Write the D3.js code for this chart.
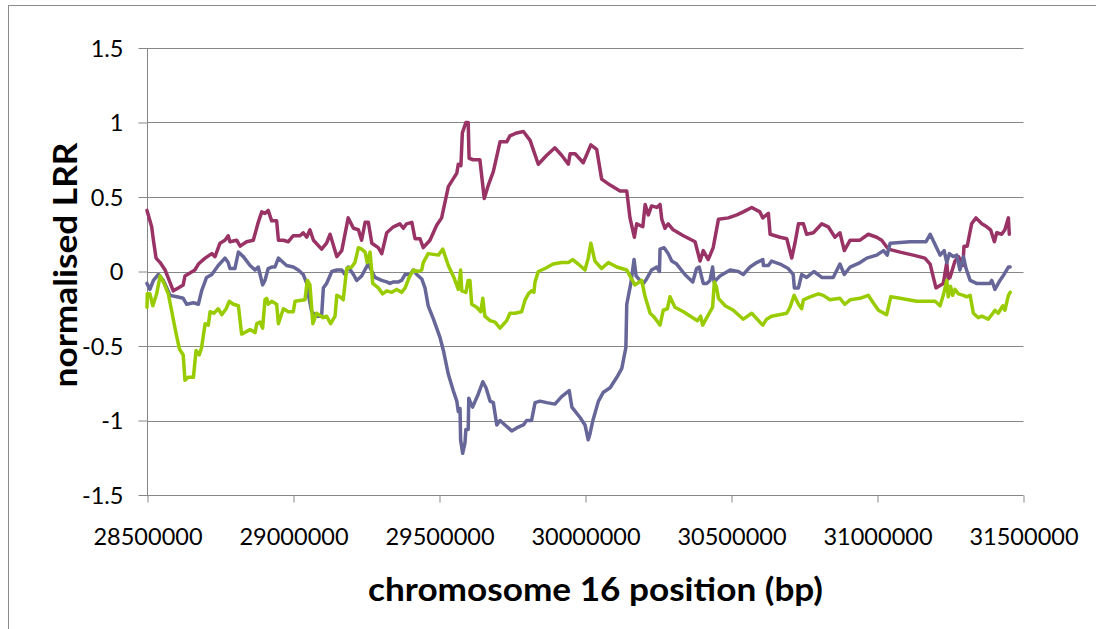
<!DOCTYPE html>
<html>
<head>
<meta charset="utf-8">
<script src="https://cdn.jsdelivr.net/npm/d3@7/dist/d3.min.js"></script>
<style>
  html, body { margin: 0; padding: 0; background: #fff; }
  svg { display: block; }
</style>
</head>
<body>
<svg id="chart" width="1096" height="629"></svg>
<script>
// ---- Data (positions in kb on chromosome 16, values are normalised LRR) ----
const xTicks = [28500000, 29000000, 29500000, 30000000, 30500000, 31000000, 31500000];
const yTicks = [-1.5, -1, -0.5, 0, 0.5, 1, 1.5];
const xTitle = "chromosome 16 position (bp)";
const yTitle = "normalised LRR";

const seriesPlum = [
[28500,0.41],[28516,0.30],[28522,0.21],[28531,0.09],[28545,0.06],[28562,0.01],[28576,-0.06],[28590,-0.13],
[28607,-0.11],[28624,-0.09],[28630,-0.03],[28647,-0.01],[28664,0.01],[28676,0.05],[28699,0.09],[28722,0.12],
[28733,0.10],[28750,0.19],[28767,0.21],[28778,0.24],[28784,0.20],[28807,0.21],[28819,0.17],[28841,0.20],
[28864,0.21],[28881,0.33],[28893,0.40],[28904,0.39],[28915,0.41],[28927,0.34],[28944,0.34],[28950,0.21],
[28967,0.21],[28984,0.20],[29001,0.24],[29024,0.24],[29035,0.26],[29047,0.23],[29058,0.28],[29070,0.21],
[29098,0.15],[29115,0.19],[29127,0.25],[29150,0.10],[29167,0.14],[29189,0.36],[29207,0.29],[29224,0.28],
[29235,0.21],[29247,0.33],[29258,0.33],[29270,0.19],[29292,0.16],[29304,0.12],[29321,0.26],[29344,0.30],
[29366,0.32],[29378,0.29],[29389,0.32],[29407,0.33],[29418,0.22],[29435,0.22],[29446,0.16],[29469,0.21],
[29492,0.31],[29509,0.36],[29532,0.57],[29561,0.66],[29566,0.72],[29575,0.71],[29580,0.93],[29592,1.00],
[29600,1.00],[29603,0.76],[29617,0.75],[29640,0.75],[29655,0.49],[29669,0.58],[29686,0.67],[29709,0.87],
[29732,0.87],[29743,0.91],[29766,0.93],[29789,0.94],[29812,0.88],[29840,0.72],[29869,0.78],[29897,0.83],
[29920,0.78],[29943,0.72],[29949,0.79],[29966,0.79],[29994,0.73],[30020,0.85],[30040,0.82],[30057,0.62],
[30086,0.58],[30120,0.54],[30143,0.54],[30154,0.36],[30169,0.23],[30177,0.32],[30198,0.30],[30206,0.45],
[30217,0.38],[30228,0.44],[30246,0.43],[30257,0.45],[30263,0.35],[30274,0.29],[30285,0.32],[30302,0.28],
[30337,0.24],[30377,0.20],[30394,0.07],[30405,0.14],[30422,0.08],[30439,0.16],[30457,0.35],[30491,0.36],
[30520,0.38],[30542,0.40],[30571,0.43],[30599,0.40],[30609,0.36],[30628,0.39],[30634,0.25],[30668,0.23],
[30691,0.22],[30708,0.09],[30719,0.19],[30731,0.32],[30748,0.32],[30759,0.25],[30782,0.26],[30811,0.32],
[30833,0.30],[30856,0.23],[30873,0.26],[30888,0.14],[30908,0.21],[30942,0.21],[30970,0.25],[30999,0.23],
[31016,0.21],[31039,0.15],[31079,0.13],[31124,0.11],[31164,0.09],[31182,0.05],[31193,-0.04],[31202,-0.11],
[31227,-0.08],[31239,0.06],[31244,-0.05],[31250,-0.04],[31267,0.07],[31279,0.10],[31294,0.04],[31298,0.17],
[31309,0.17],[31324,0.32],[31339,0.36],[31359,0.32],[31376,0.30],[31389,0.28],[31402,0.20],[31410,0.26],
[31427,0.25],[31438,0.28],[31450,0.36],[31453,0.25]
];

const seriesSlate = [
[28500,-0.08],[28510,-0.12],[28522,-0.06],[28539,-0.02],[28556,-0.06],[28579,-0.16],[28602,-0.17],[28624,-0.18],
[28636,-0.22],[28659,-0.21],[28676,-0.22],[28687,-0.13],[28704,-0.04],[28722,-0.02],[28744,0.04],[28767,0.09],
[28778,0.06],[28784,0.02],[28801,0.02],[28813,0.13],[28830,0.10],[28853,0.04],[28870,0.01],[28881,0.03],
[28896,-0.09],[28904,-0.06],[28915,0.02],[28927,0.03],[28938,0.03],[28950,0.09],[28961,0.07],[28978,0.04],
[29001,0.03],[29018,0.01],[29035,-0.02],[29047,-0.08],[29052,-0.15],[29064,-0.27],[29081,-0.30],[29098,-0.30],
[29104,-0.11],[29115,-0.08],[29133,0.00],[29150,0.01],[29167,0.01],[29178,-0.02],[29189,0.03],[29207,-0.02],
[29218,-0.06],[29235,-0.03],[29257,0.05],[29281,-0.04],[29304,-0.06],[29321,-0.07],[29332,-0.08],[29344,-0.07],
[29361,-0.07],[29372,-0.06],[29384,-0.02],[29401,-0.02],[29412,0.01],[29424,-0.02],[29441,-0.05],[29452,-0.11],
[29463,-0.23],[29481,-0.32],[29503,-0.44],[29515,-0.53],[29532,-0.69],[29549,-0.80],[29561,-0.87],[29566,-0.94],
[29572,-0.92],[29574,-1.13],[29581,-1.22],[29589,-1.15],[29592,-1.06],[29600,-1.06],[29602,-0.85],[29606,-0.87],
[29615,-0.91],[29635,-0.82],[29650,-0.74],[29661,-0.78],[29675,-0.87],[29686,-0.88],[29698,-1.03],[29709,-1.00],
[29726,-1.03],[29749,-1.07],[29766,-1.05],[29789,-1.03],[29800,-1.00],[29817,-1.00],[29829,-0.88],[29846,-0.87],
[29869,-0.88],[29897,-0.89],[29920,-0.84],[29946,-0.80],[29955,-0.91],[29983,-0.98],[30000,-1.03],[30011,-1.13],
[30017,-1.09],[30027,-1.00],[30046,-0.87],[30063,-0.81],[30086,-0.78],[30109,-0.71],[30126,-0.65],[30140,-0.51],
[30143,-0.22],[30157,-0.08],[30168,0.08],[30175,-0.03],[30188,-0.06],[30200,-0.08],[30211,-0.05],[30228,0.01],
[30246,0.03],[30255,0.00],[30257,0.15],[30271,0.16],[30285,0.12],[30297,0.07],[30314,0.05],[30342,-0.02],
[30369,-0.07],[30382,0.02],[30391,0.03],[30405,-0.08],[30417,-0.08],[30428,-0.06],[30437,0.03],[30442,-0.07],
[30462,-0.03],[30497,0.01],[30525,0.00],[30542,-0.02],[30565,0.03],[30588,0.06],[30609,0.08],[30611,0.04],
[30628,0.04],[30639,0.07],[30668,0.05],[30696,0.02],[30713,-0.02],[30717,-0.11],[30731,-0.11],[30742,-0.02],
[30759,-0.04],[30784,0.00],[30811,-0.04],[30850,-0.04],[30873,0.05],[30888,-0.02],[30908,0.03],[30942,0.06],
[30965,0.09],[30999,0.11],[31022,0.14],[31035,0.11],[31045,0.19],[31113,0.20],[31168,0.20],[31182,0.25],
[31216,0.11],[31230,0.14],[31239,0.06],[31248,0.12],[31261,0.10],[31273,0.11],[31284,0.01],[31296,0.10],
[31305,0.02],[31319,-0.06],[31341,-0.08],[31387,-0.08],[31393,-0.06],[31404,-0.12],[31421,-0.06],[31435,-0.02],
[31450,0.03],[31456,0.03]
];

const seriesLime = [
[28500,-0.24],[28501,-0.15],[28510,-0.15],[28520,-0.23],[28533,-0.15],[28545,-0.03],[28556,-0.07],[28573,-0.15],
[28585,-0.27],[28599,-0.41],[28611,-0.52],[28624,-0.56],[28630,-0.73],[28641,-0.71],[28659,-0.71],[28668,-0.53],
[28679,-0.56],[28687,-0.51],[28699,-0.35],[28710,-0.36],[28716,-0.27],[28729,-0.28],[28744,-0.25],[28756,-0.29],
[28771,-0.25],[28782,-0.20],[28796,-0.22],[28813,-0.23],[28824,-0.42],[28853,-0.39],[28870,-0.41],[28876,-0.35],
[28887,-0.34],[28896,-0.38],[28904,-0.19],[28910,-0.18],[28915,-0.22],[28927,-0.20],[28944,-0.22],[28950,-0.35],
[28967,-0.25],[28984,-0.27],[29001,-0.27],[29007,-0.20],[29041,-0.19],[29049,-0.06],[29058,-0.09],[29068,-0.35],
[29081,-0.28],[29104,-0.31],[29115,-0.30],[29129,-0.35],[29144,-0.30],[29150,-0.16],[29161,-0.17],[29172,-0.19],
[29184,0.02],[29201,0.03],[29212,0.06],[29224,0.16],[29235,0.15],[29247,0.13],[29254,0.06],[29264,0.13],
[29273,-0.08],[29292,-0.11],[29307,-0.15],[29321,-0.13],[29338,-0.14],[29355,-0.12],[29372,-0.14],[29384,-0.11],
[29398,-0.04],[29412,0.01],[29429,0.00],[29441,0.01],[29446,0.06],[29463,0.12],[29498,0.11],[29513,0.15],
[29532,0.04],[29551,-0.04],[29566,-0.12],[29574,0.01],[29578,-0.13],[29592,-0.14],[29600,-0.06],[29606,-0.06],
[29612,-0.22],[29629,-0.24],[29643,-0.27],[29650,-0.18],[29657,-0.30],[29675,-0.33],[29692,-0.34],[29709,-0.38],
[29732,-0.33],[29743,-0.28],[29760,-0.28],[29783,-0.27],[29795,-0.19],[29806,-0.15],[29817,-0.13],[29825,-0.14],
[29829,-0.07],[29840,0.00],[29863,0.02],[29891,0.05],[29920,0.06],[29943,0.06],[29958,0.08],[29977,0.05],
[30000,0.01],[30011,0.09],[30020,0.19],[30034,0.07],[30057,0.02],[30080,0.06],[30109,0.03],[30143,0.01],
[30154,-0.03],[30171,-0.09],[30194,-0.06],[30206,-0.17],[30223,-0.28],[30234,-0.30],[30246,-0.33],[30257,-0.36],
[30268,-0.26],[30282,-0.25],[30291,-0.17],[30308,-0.24],[30337,-0.27],[30377,-0.32],[30385,-0.33],[30396,-0.30],
[30403,-0.36],[30417,-0.31],[30437,-0.24],[30443,-0.07],[30451,-0.11],[30457,-0.18],[30480,-0.23],[30508,-0.26],
[30542,-0.32],[30571,-0.28],[30599,-0.34],[30609,-0.36],[30622,-0.32],[30639,-0.30],[30691,-0.28],[30702,-0.24],
[30716,-0.16],[30731,-0.22],[30742,-0.25],[30748,-0.19],[30771,-0.17],[30799,-0.15],[30816,-0.16],[30839,-0.19],
[30873,-0.18],[30890,-0.22],[30908,-0.19],[30942,-0.18],[30970,-0.16],[30987,-0.21],[31005,-0.26],[31033,-0.29],
[31047,-0.17],[31079,-0.18],[31136,-0.20],[31199,-0.20],[31216,-0.23],[31227,-0.16],[31239,-0.06],[31244,-0.17],
[31252,-0.10],[31259,-0.16],[31267,-0.12],[31279,-0.15],[31296,-0.16],[31307,-0.17],[31319,-0.16],[31330,-0.28],
[31347,-0.31],[31359,-0.30],[31381,-0.32],[31393,-0.29],[31404,-0.26],[31415,-0.28],[31431,-0.23],[31438,-0.26],
[31450,-0.16],[31456,-0.14]
];

const seriesList = [
  { name: "sample 1", data: seriesPlum,  color: "#993366" },
  { name: "sample 2", data: seriesSlate, color: "#666699" },
  { name: "sample 3", data: seriesLime,  color: "#99CC00" }
];

// ---- Layout ----
const svg = d3.select("#chart");
const plot = { left: 147, right: 1023, top: 48, bottom: 495 };

const x = d3.scaleLinear().domain([28500000, 31500000]).range([plot.left, plot.right]);
const y = d3.scaleLinear().domain([-1.5, 1.5]).range([plot.bottom, plot.top]);

const gridColor = "#868686";
const font = "Lato, 'Open Sans', sans-serif";

// outer chart border (only left/top visible in the frame)
svg.append("rect")
  .attr("x", 8.5).attr("y", 5.5)
  .attr("width", 1200).attr("height", 700)
  .attr("fill", "#fff").attr("stroke", "#8c8c8c").attr("stroke-width", 1);

// y ticks + labels
const yAxis = d3.axisLeft(y).tickValues(yTicks).tickSize(9).tickFormat(d => String(d));
const gy = svg.append("g").attr("transform", `translate(${plot.left + 0.5},0)`).call(yAxis);
gy.select(".domain").remove();
gy.selectAll(".tick line").attr("stroke", gridColor);
gy.selectAll(".tick text")
  .attr("x", -24)
  .attr("dy", "0.36em")
  .attr("fill", "#000")
  .style("font-family", font)
  .style("font-size", "23.5px");

// horizontal gridlines
svg.append("g").selectAll("line").data(yTicks).join("line")
  .attr("x1", plot.left).attr("x2", plot.right + 0.5)
  .attr("y1", d => Math.round(y(d)) + 0.5).attr("y2", d => Math.round(y(d)) + 0.5)
  .attr("stroke", gridColor).attr("stroke-width", 1);

// y axis line
svg.append("line")
  .attr("x1", plot.left + 0.5).attr("x2", plot.left + 0.5)
  .attr("y1", plot.top).attr("y2", plot.bottom + 0.5)
  .attr("stroke", gridColor);

// x ticks + labels
const xAxis = d3.axisBottom(x).tickValues(xTicks).tickSize(7).tickFormat(d3.format("d"));
const gx = svg.append("g").attr("transform", `translate(0.5,${Math.round(y(-1.5)) + 0.5})`).call(xAxis);
gx.select(".domain").remove();
gx.selectAll(".tick line").attr("stroke", gridColor);
gx.selectAll(".tick text")
  .attr("y", 49)
  .attr("dy", 0)
  .attr("fill", "#000")
  .style("font-family", font)
  .style("font-size", "23.5px");

// series lines
const line = d3.line().x(d => x(d[0] * 1000)).y(d => y(d[1]));
svg.append("g").selectAll("path").data(seriesList).join("path")
  .attr("d", s => line(s.data))
  .attr("fill", "none")
  .attr("stroke", s => s.color)
  .attr("stroke-width", 3.5)
  .attr("stroke-linejoin", "round")
  .attr("stroke-linecap", "round");

// axis titles
svg.append("text")
  .attr("x", 595.5).attr("y", 601)
  .attr("text-anchor", "middle")
  .attr("textLength", 455)
  .attr("lengthAdjust", "spacingAndGlyphs")
  .style("font-family", font)
  .style("font-weight", "bold")
  .style("font-size", "33px")
  .text(xTitle);

svg.append("text")
  .attr("transform", "translate(77,265) rotate(-90)")
  .attr("text-anchor", "middle")
  .attr("textLength", 245)
  .attr("lengthAdjust", "spacingAndGlyphs")
  .style("font-family", font)
  .style("font-weight", "bold")
  .style("font-size", "33px")
  .text(yTitle);
</script>
</body>
</html>
